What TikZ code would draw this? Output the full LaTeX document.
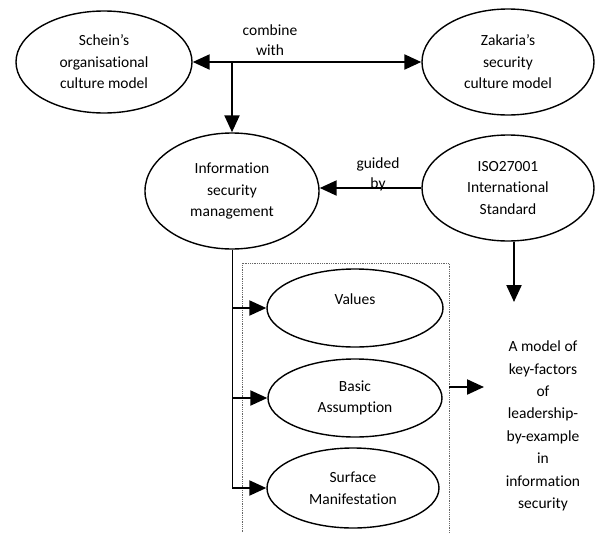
\documentclass[tikz,border=0pt]{standalone}
\usepackage{fontspec}
\setmainfont{Carlito}[Ligatures={NoCommon}]
\usetikzlibrary{arrows.meta,shapes.geometric}
\begin{document}
\begin{tikzpicture}[x=1pt,y=-1pt,
  txt/.style={font=\fontsize{15.5}{21.5}\selectfont,align=center,inner sep=0pt},
  oval/.style={txt,ellipse,draw,line width=1.4pt},
  tip/.tip={Triangle[length=17pt,width=15pt]},
  flow/.style={line width=2.2pt,-tip},
  twoway/.style={line width=2.2pt,tip-tip},
  spine/.style={line width=1pt},
  dotbox/.style={draw=black!60,densely dotted,line width=0.8pt}
]
\useasboundingbox (0,0) rectangle (595,533);

% concepts
\node[oval,minimum width=176pt,minimum height=102pt] (schein) at (104,62) {Schein’s\\organisational\\culture model};
\node[oval,minimum width=172pt,minimum height=106pt] (zak) at (508,62) {Zakaria’s\\security\\culture model};
\node[oval,minimum width=174pt,minimum height=116pt] (info) at (232,191) {Information\\security\\management};
\node[oval,minimum width=172pt,minimum height=106pt] (iso) at (508,188) {ISO27001\\International\\Standard};

% culture levels
\node[oval,minimum width=176pt,minimum height=78pt] (values) at (355,308) {Values\\[-3pt]\mbox{}};
\node[oval,minimum width=174pt,minimum height=78pt] (basic) at (355,398) {Basic\\Assumption};
\node[oval,minimum width=172pt,minimum height=80pt] (surface) at (353,488) {Surface\\Manifestation};

% outcome
\node[txt,font=\fontsize{15.5}{22.4}\selectfont] (model) at (543,426) {A model of\\key-factors\\of\\leadership-\\by-example\\in\\information\\security};

% edge labels
\node[txt,font=\fontsize{15.5}{20}\selectfont] (combine) at (270,40) {combine\\with};
\node[txt,font=\fontsize{15.5}{20}\selectfont] (guided) at (378,174) {guided\\by};

% dotted frame around the culture levels
\coordinate (fbl) at (242,534);
\coordinate (ftl) at (242,263);
\coordinate (ftr) at (449,263);
\coordinate (fbr) at (449,534);
\draw[dotbox] (fbl) -- (ftl) -- (ftr) -- (fbr);

% connectors
\coordinate (junction) at (info.north |- schein.east);
\draw[twoway] (schein.east) -- (zak.west);
\draw[flow] (junction) -- (info.north);
\draw[flow] (iso.west) -- (iso.west -| info.east);

\coordinate (isotip) at (514,302);
\draw[flow] (isotip |- iso.south) -- (isotip);

\draw[spine] (info.south) -- (info.south |- surface.west);
\draw[flow] (info.south |- values.west) -- (values.west);
\draw[flow] (info.south |- basic.west) -- (basic.west);
\draw[flow] (info.south |- surface.west) -- (surface.west);

\coordinate (frameout) at (449,387);
\coordinate (frametip) at (484,387);
\draw[flow] (frameout) -- (frametip);
\end{tikzpicture}
\end{document}
